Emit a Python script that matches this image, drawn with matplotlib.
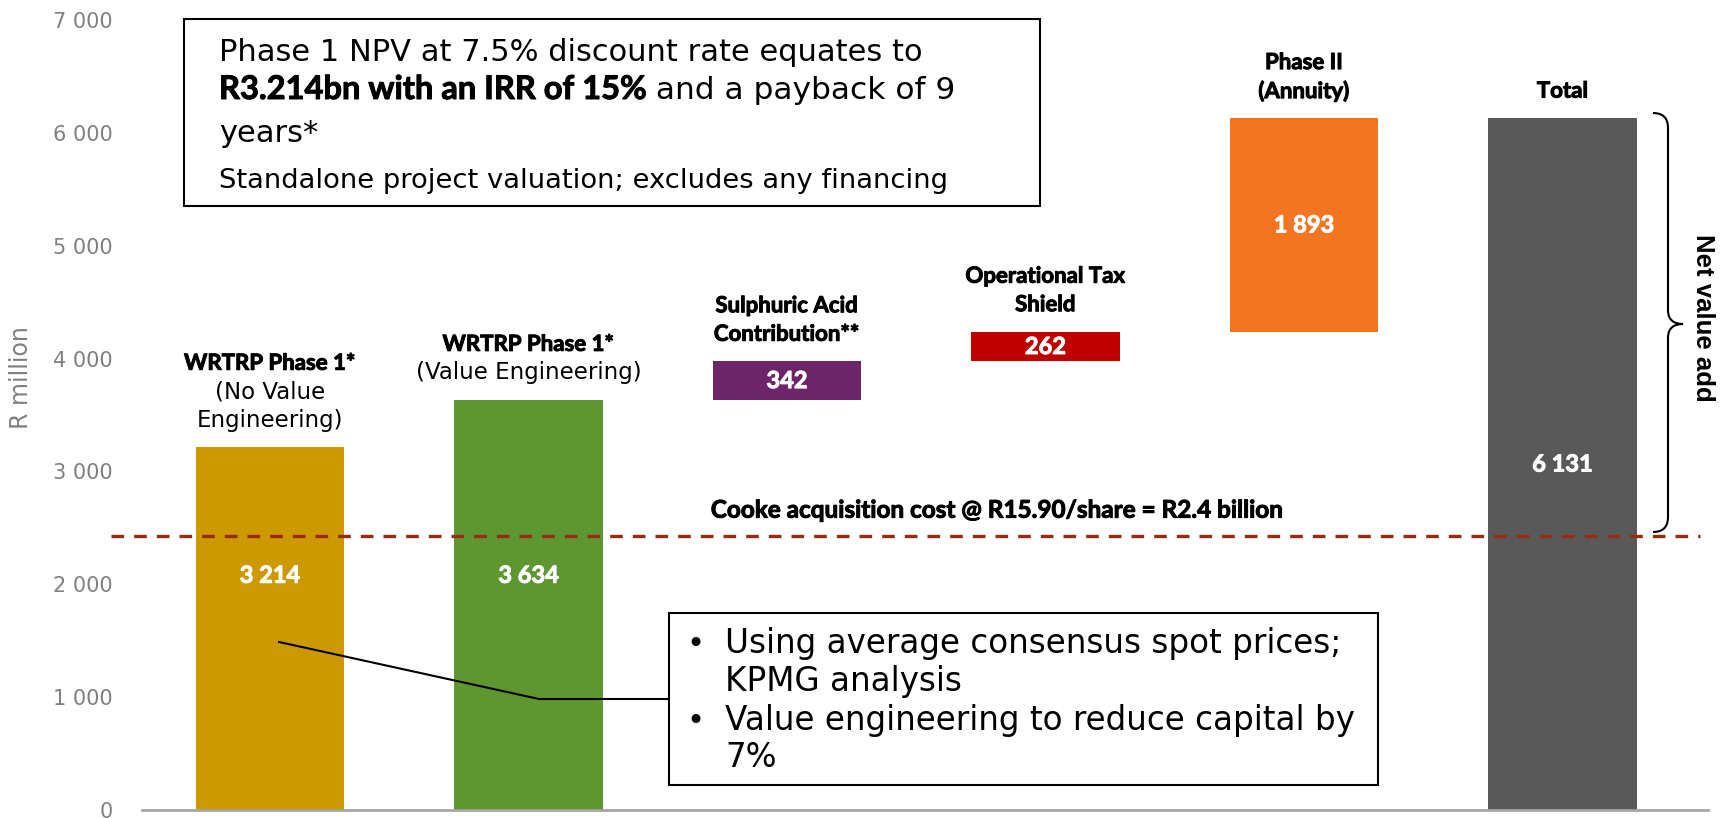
import matplotlib
matplotlib.use("Agg")
import matplotlib.pyplot as plt
import matplotlib.patheffects as pe
from matplotlib.lines import Line2D
from matplotlib.patches import Rectangle
from matplotlib.path import Path
from matplotlib.patches import PathPatch
from matplotlib.ticker import FuncFormatter
from matplotlib.transforms import blended_transform_factory

# ---------------- data ----------------
label_lines = [
    [("WRTRP Phase 1*", True), ("(No Value", False), ("Engineering)", False)],
    [("WRTRP Phase 1*", True), ("(Value Engineering)", False)],
    [("Sulphuric Acid", True), ("Contribution**", True)],
    [("Operational Tax", True), ("Shield", True)],
    [("Phase II", True), ("(Annuity)", True)],
    [("Total", True)],
]
values = [3214, 3634, 342, 262, 1893, 6131]
kinds = ["total", "total", "step", "step", "step", "total"]
value_labels = ["3 214", "3 634", "342", "262", "1 893", "6 131"]
colors = ["#CC9900", "#5E9732", "#6B2568", "#C00000", "#F37521", "#595959"]
cooke_cost = 2430
yticks = [0, 1000, 2000, 3000, 4000, 5000, 6000, 7000]

# ---------------- figure ----------------
W, H = 1725, 818
fig = plt.figure(figsize=(W / 100, H / 100), dpi=100)
fx = lambda x: x / W
fy = lambda y: 1 - y / H

REG = "DejaVu Sans"
BOLD = "Lato"


def heavy(color):
    return [pe.withStroke(linewidth=0.7, foreground=color)]


ax = fig.add_axes([fx(142), fy(810), fx(1708) - fx(142), fy(20) - fy(810)])

# waterfall bases
bases = []
running = 0
for v, k in zip(values, kinds):
    if k == "total":
        bases.append(0)
        running = v
    else:
        bases.append(running)
        running += v

xs = list(range(len(values)))
ax.bar(xs, values, bottom=bases, width=0.573, color=colors, linewidth=0, zorder=2)
ax.set_xlim(-0.495, 5.563)
ax.set_ylim(0, 7000)

ax.set_yticks(yticks)
ax.yaxis.set_major_formatter(FuncFormatter(lambda v, p: f"{int(v):,}".replace(",", " ")))
ax.tick_params(axis="y", length=0, pad=21, labelsize=15, labelcolor="#808080")
ax.tick_params(axis="x", length=0, labelbottom=False)
for t in ax.get_yticklabels():
    t.set_fontfamily(REG)
for s in ["top", "right", "left"]:
    ax.spines[s].set_visible(False)
ax.spines["bottom"].set_color("#A6A6A6")
ax.spines["bottom"].set_linewidth(2)

fig.text(fx(21), fy(378), "R million", rotation=90, ha="center", va="center",
         fontsize=17, color="#808080", family=REG)

# value labels inside bars
for i, (v, b, lab) in enumerate(zip(values, bases, value_labels)):
    y = 2080 if i < 2 else b + v / 2
    ax.text(i, y, lab, ha="center", va="center", color="white", fontsize=17,
            family=BOLD, weight="bold", zorder=3, path_effects=heavy("white"))

# category labels above bars
for i, (v, b, lines) in enumerate(zip(values, bases, label_lines)):
    top = b + v
    for k, (txt, bold) in enumerate(reversed(lines)):
        ax.annotate(txt, (i, top), xytext=(0, (27 + 28.5 * k) * 0.72),
                    textcoords="offset points", ha="center", va="center",
                    fontsize=16 if bold else 16.5,
                    family=BOLD if bold else REG,
                    weight="bold" if bold else "normal", color="black",
                    path_effects=heavy("black") if bold else None)

# cooke acquisition dashed line
tr = blended_transform_factory(fig.transFigure, ax.transData)
ax.add_line(Line2D([fx(111), fx(1700)], [cooke_cost, cooke_cost], transform=tr,
                   color="#9A2A12", lw=2.4, linestyle=(0, (3.8, 3)),
                   clip_on=False, zorder=4))
ax.text(fx(996), cooke_cost + 227, "Cooke acquisition cost @ R15.90/share = R2.4 billion",
        transform=tr, ha="center", va="center", fontsize=17.5, family=BOLD,
        weight="bold", color="black", path_effects=heavy("black"))

# top text box
fig.patches.append(Rectangle((fx(184), fy(206)), fx(1040) - fx(184), fy(19) - fy(206),
                             transform=fig.transFigure, fill=False, ec="black", lw=1.5))
fig.text(fx(219), fy(61), "Phase 1 NPV at 7.5% discount rate equates to",
         fontsize=22, family=REG, va="baseline", ha="left")
tb = fig.text(fx(219), fy(99), "R3.214bn with an IRR of 15%", fontsize=23.5,
              family=BOLD, weight="bold", va="baseline", ha="left",
              path_effects=heavy("black"))
fig.canvas.draw()
bb = tb.get_window_extent(fig.canvas.get_renderer())
fig.text(bb.x1 / W, fy(99), " and a payback of 9", fontsize=22.5, family=REG,
         va="baseline", ha="left")
fig.text(fx(219), fy(142), "years*", fontsize=22, family=REG, va="baseline", ha="left")
fig.text(fx(219), fy(188), "Standalone project valuation; excludes any financing",
         fontsize=19.7, family=REG, va="baseline", ha="left")

# bottom text box
box_l, box_r, box_t, box_b = 669, 1378, 613, 785
fig.patches.append(Rectangle((fx(box_l), fy(box_b)), fx(box_r) - fx(box_l),
                             fy(box_t) - fy(box_b), transform=fig.transFigure,
                             fill=True, fc="white", ec="black", lw=1.5, zorder=5))
bullets = [("Using average consensus spot prices;", 653, True),
           ("KPMG analysis", 691, False),
           ("Value engineering to reduce capital by", 730, True),
           ("7%", 767, False)]
for txt, yb, bul in bullets:
    fig.text(fx(725), fy(yb), txt, fontsize=23.5, family=REG, va="baseline",
             ha="left", zorder=6)
    if bul:
        fig.text(fx(686), fy(yb), "•", fontsize=22, family=REG, va="baseline",
                 ha="left", zorder=6)

# leader line
fig.lines.append(Line2D([fx(279), fx(539), fx(box_l)], [fy(642), fy(699), fy(699)],
                        transform=fig.transFigure, color="black", lw=1.5, zorder=5))

# brace
verts = [(1653, 113), (1668, 113), (1668, 128),
         (1668, 310), (1668, 324), (1683, 324),
         (1668, 324), (1668, 338),
         (1668, 517), (1668, 532), (1653, 532)]
codes = [Path.MOVETO, Path.CURVE3, Path.CURVE3,
         Path.LINETO, Path.CURVE3, Path.CURVE3,
         Path.CURVE3, Path.CURVE3,
         Path.LINETO, Path.CURVE3, Path.CURVE3]
brace = Path([(fx(x), fy(y)) for x, y in verts], codes)
fig.patches.append(PathPatch(brace, transform=fig.transFigure, fill=False,
                             ec="black", lw=1.5))
fig.text(fx(1703), fy(318), "Net value add", rotation=-90, ha="center", va="center",
         fontsize=18.5, family="Liberation Sans", weight="bold", color="black")

fig.savefig("out.png", dpi=100)
